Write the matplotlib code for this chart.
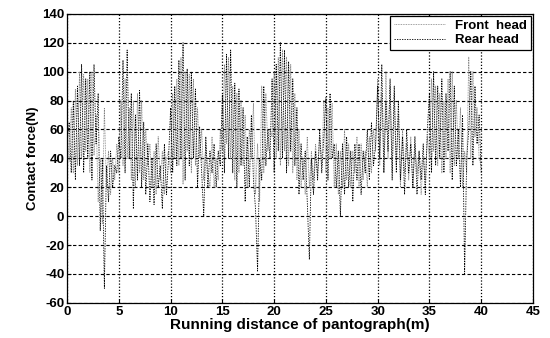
import matplotlib
matplotlib.use("Agg")
import matplotlib.pyplot as plt
import numpy as np

# contact force (N), one sample every 0.2 m from 0 to 40 m
front_head = [
    60, 38, 75, 30, 88,  35, 100, 40, 98, 45,  95, 30, 100, 42, 70,
    10, 40, -5, 75, 20,  45, 15, 40, 25, 50,
    30, 80, 35, 95, 40,  75, 25, 80, 20, 85,  30, 80, 25, 60, 35,
    50, 20, 45, 15, 55,  25, 45, 15, 40, 45,
    30, 85, 40, 95, 35,  110, 22, 100, 45, 98,  30, 95, 35, 75, 40,
    60, 25, 50, 30, 20,  55, 20, 40, 25, 60,
    45, 105, 50, 110, 40,  90, 25, 85, 30, 80,  35, 70, 20, 60, 40,
    78, 15, 50, 10, 90,  30, 85, 45, 60, 55,
    100, 40, 110, 35, 115,  45, 110, 35, 105, 30,  85, 25, 60, 20, 40,
    15, 55, 20, 45, 25,  50, 30, 55, 35, 80,
    30, 75, 40, 78, 20,  50, 15, 45, 20, 60,  25, 50, 20, 45, 30,
    55, 20, 50, 25, 45,  20, 55, 30, 60, 45,
    95, 35, 85, 30, 100,  40, 90, 30, 85, 35,  70, 20, 60, 30, 50,
    25, 55, 20, 50, 30,  45, 15, 40, 25, 55,
    40, 95, 45, 90, 35,  85, 30, 80, 40, 95,  30, 100, 35, 80, 40,
    75, 20, 45, 30, 110,  40, 100, 55, 75, 40,
    35,
]
rear_head = [
    50, 65, 30, 80, 25,  90, 35, 105, 30, 95,  40, 100, 25, 105, 50,
    85, -10, 40, -50, 35,  10, 45, 20, 35, 30,
    55, 40, 108, 30, 115,  40, 85, 5, 70, 25,  87, 20, 65, 15, 50,
    10, 40, 8, 50, 20,  35, 5, 50, 15, 40,
    75, 30, 90, 35, 108,  40, 120, 25, 102, 35,  100, 40, 88, 20, 62,
    30, 0, 55, 20, 45,  30, 50, 20, 45, 35,
    85, 30, 112, 40, 115,  30, 92, 20, 88, 35,  75, 10, 55, 20, 70,
    25, 5, -38, 40, 25,  90, 35, 60, 40, 95,
    30, 105, 45, 120, 40,  115, 30, 107, 45, 95,  35, 75, 15, 50, 25,
    45, 10, -30, 40, 15,  45, 25, 60, 30, 55,
    82, 25, 85, 40, 50,  20, 45, 0, 50, 15,  55, 20, 45, 10, 50,
    25, 50, 15, 45, 30,  60, 25, 65, 35, 50,
    90, 40, 105, 30, 80,  45, 95, 25, 90, 30,  80, 25, 55, 15, 60,
    30, 50, 20, 55, 15,  45, 25, 50, 15, 60,
    85, 30, 100, 35, 90,  40, 95, 30, 85, 45,  100, 25, 90, 35, 60,
    20, 70, -40, 40, 60,  100, 35, 90, 50, 70,
    30,
]
distance = np.linspace(0, 40, len(front_head))

x_ticks = list(range(0, 46, 5))
y_ticks = list(range(-60, 141, 20))

plt.rcParams["font.family"] = ["Liberation Sans", "DejaVu Sans"]
plt.rcParams["font.weight"] = "bold"
plt.rcParams["axes.unicode_minus"] = False

fig = plt.figure(figsize=(5.5, 3.38), dpi=100)
ax = fig.add_axes([0.122, 0.104, 0.847, 0.855])

ax.plot(distance, front_head, color="0.5", linestyle=(0, (1, 1)), linewidth=0.6,
        label="Front  head")
ax.plot(distance, rear_head, color="black", linestyle=(0, (1.6, 1.4)), linewidth=0.6,
        label="Rear head")

ax.set_xlim(0, 45)
ax.set_ylim(-60, 140)
ax.set_xticks(x_ticks)
ax.set_yticks(y_ticks)
ax.tick_params(direction="in", labelsize=9.5, length=3, width=0.8, pad=2)
for label in ax.get_xticklabels() + ax.get_yticklabels():
    label.set_fontweight("bold")

ax.yaxis.grid(True, color="black", linestyle=(0, (3, 2)), linewidth=0.8)
ax.xaxis.grid(True, color="black", linestyle=(0, (1, 1.5)), linewidth=0.9)
for spine in ax.spines.values():
    spine.set_linewidth(0.9)

ax.set_xlabel("Running distance of pantograph(m)", fontsize=11, fontweight="bold",
              labelpad=0)
ax.set_ylabel("Contact force(N)", fontsize=9.5, fontweight="bold", labelpad=2)

leg = ax.legend(loc="upper right", fontsize=9.5, frameon=True, fancybox=False,
                edgecolor="black", framealpha=1, borderaxespad=0.15,
                handlelength=3.8, handletextpad=0.8, borderpad=0.3,
                labelspacing=0.15)
leg.get_frame().set_linewidth(0.9)
for text in leg.get_texts():
    text.set_fontweight("bold")

fig.savefig("out.png", dpi=100)
